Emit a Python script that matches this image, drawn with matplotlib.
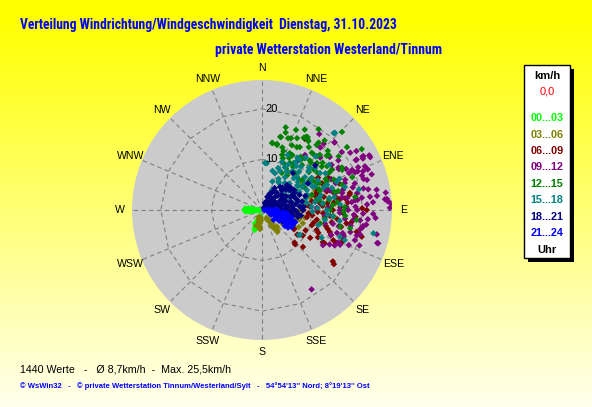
import numpy as np
import matplotlib
matplotlib.use('Agg')
import matplotlib.pyplot as plt
from matplotlib import font_manager
from matplotlib.patches import Rectangle

# ---------------- data (direction in degrees, speed in km/h) ----------------
hours_labels = ['00...03', '03...06', '06...09', '09...12', '12...15', '15...18', '18...21', '21...24']
hours_colors = ['#00ff00', '#808000', '#800000', '#800080', '#008000', '#008080', '#000080', '#0000ff']

dir_00_03 = [270, 270, 270, 270, 270, 270, 270, 270, 266, 266, 266, 274, 274, 274, 263, 277, 268, 272,
             206, 204, 203, 202, 202, 208, 200, 195, 192, 190,
             268, 272, 276, 264, 268, 272, 265, 275]
spd_00_03 = [0.6, 1.0, 1.4, 1.8, 2.2, 2.6, 3.0, 3.3, 1.2, 2.0, 2.8, 1.5, 2.4, 3.2, 2.5, 2.7, 3.4, 3.4,
             1.6, 2.2, 2.8, 3.4, 3.8, 3.0, 4.2, 1.2, 2.0, 2.6,
             0.8, 1.6, 2.0, 1.8, 2.4, 2.8, 3.2, 3.3]

dir_03_06 = [205, 200, 195, 190, 187, 186, 192, 188, 196,
             150, 148, 147, 146, 146, 145, 152, 149, 140, 138,
             100, 105, 110, 115, 108, 112, 118, 102, 96, 104, 115, 100, 120, 98, 92, 110,
             75, 90, 90, 107, 60, 80, 70, 85, 55, 79, 90, 80,
             185, 190, 200, 145, 142, 106, 112, 118, 124, 108]
spd_03_06 = [1.5, 2.0, 2.5, 3.0, 3.5, 3.8, 1.8, 2.6, 3.2,
             1.8, 2.5, 3.2, 4.0, 4.6, 5.3, 2.2, 3.8, 2.8, 4.4,
             3.5, 4.2, 4.8, 5.5, 6.0, 6.5, 7.2, 5.2, 6.8, 7.6, 8.0, 8.6, 6.0, 4.5, 7.2, 3.8,
             9.8, 10.9, 7.9, 6.8, 12.0, 13.5, 11.2, 14.5, 9.5, 8.4, 5.3, 6.0,
             2.0, 1.5, 3.3, 3.5, 5.0, 3.0, 4.2, 6.5, 5.0, 8.5]

dir_06_09 = [31, 72, 66, 82, 80, 84, 86, 89, 71, 83, 120, 135, 116, 107, 108, 113, 107, 99, 103, 105,
             90, 93, 73, 82, 79, 99, 90, 94, 121, 136, 132, 126, 127, 109, 112, 95, 100, 88, 76, 68,
             85, 97, 104, 110, 115, 125, 92, 78, 70, 74, 50, 84, 81, 60, 64, 118,
             86, 90, 92, 96, 98, 100, 102, 104, 106, 110, 112, 114, 118, 120, 122, 80, 76, 72, 88, 94, 96, 84]
spd_06_09 = [16.4, 11.4, 13.0, 16.6, 17.6, 14.3, 9.5, 19.8, 16.1, 11.5, 7.2, 9.1, 12.3, 10.3, 14.1, 15.3, 16.8, 16.9, 19.2, 20.4,
             20.7, 12.1, 11.3, 15.6, 17.7, 9.0, 8.2, 9.2, 7.4, 9.4, 10.9, 17.3, 17.8, 16.8, 17.0, 13.5, 11.0, 13.0, 14.5, 15.5,
             17.0, 15.0, 13.0, 11.5, 9.5, 8.5, 16.0, 12.5, 11.7, 13.3, 13.9, 13.0, 15.0, 12.8, 14.6, 13.6,
             12.0, 14.0, 11.0, 12.5, 17.8, 14.0, 16.0, 10.5, 13.5, 14.5, 12.0, 16.0, 14.0, 11.0, 9.5, 10.0, 11.0, 13.5, 15.5, 18.5, 10.0, 9.0]

dir_09_12 = [37, 43, 47, 38, 64, 63, 62, 57, 36, 66, 68, 69, 62,
             43, 47, 57, 62, 62, 63, 57, 61, 67, 71, 67, 68, 72, 74, 77, 81, 85, 83, 87, 88, 90, 72,
             148, 120, 106, 83, 85, 86, 104, 100, 85, 87, 89, 62, 69, 74, 83, 79, 80,
             96, 101, 95, 102, 82, 92, 88, 101, 108, 114, 102, 88, 74, 73,
             90, 96, 107, 113, 106, 105, 99, 106, 110, 117, 95, 84, 78, 92,
             60, 64, 66, 70, 72, 76, 78, 80, 82, 84, 86, 88, 90, 92, 94, 96, 98, 100, 102, 104,
             108, 110, 112, 116, 58, 54, 52, 48, 76, 70, 66, 93]
spd_09_12 = [18.8, 17.9, 19.6, 13.8, 23.8, 22.4, 21.0, 18.0, 12.0, 19.5, 20.4, 21.4, 17.2,
             16.9, 19.6, 20.8, 21.2, 22.7, 23.8, 16.4, 17.3, 18.7, 20.9, 22.1, 19.8, 17.2, 19.1, 14.8, 16.0, 17.8, 19.9, 20.8, 13.2, 15.4, 13.1,
             18.5, 13.9, 23.7, 21.5, 24.4, 24.9, 20.0, 20.1, 24.8, 25.5, 25.3, 22.5, 22.4, 21.6, 22.9, 21.4, 19.1,
             18.2, 19.8, 21.0, 23.2, 24.7, 15.4, 16.7, 14.3, 19.3, 16.9, 12.7, 10.8, 14.0, 21.0,
             18.8, 19.5, 15.5, 16.4, 16.6, 19.4, 20.2, 23.9, 14.5, 15.0, 12.5, 18.5, 16.2, 22.0,
             16.0, 18.5, 20.8, 17.5, 22.8, 18.5, 20.5, 23.0, 17.0, 19.0, 22.0, 18.5, 17.0, 20.0, 22.5, 16.5, 20.8, 17.8, 15.5, 18.0,
             17.0, 20.5, 18.5, 16.0, 22.0, 19.5, 17.0, 15.5, 16.5, 15.5, 15.0, 18.2]

dir_12_15 = [23, 20, 22, 14, 9, 13, 32, 34, 20, 29, 58.6, 29, 41, 45.5, 50, 52, 31, 34, 62, 60, 45.7,
             12.8, 24.8, 31, 36.7, 50.6, 53.5, 8.5, 27.4, 43, 49.5, 54, 41.6, 51, 41.7, 28, 47, 61, 67,
             72.6, 73, 81.5, 88, 82, 70, 63.4, 64.6, 51, 34, 39.6, 46.5,
             102, 103, 101.7, 96, 95, 91, 84, 64, 14.6, 31, 33, 20, 26,
             38, 44, 56, 58, 66, 70, 76, 79, 86, 36, 48, 53, 59, 25, 17, 40,
             18, 26, 30, 36, 40, 46, 52, 56, 60, 64, 68, 72, 76, 80, 84, 90, 94, 98, 22, 30,
             36, 44, 56, 62, 48, 55, 42, 35, 28, 16]
spd_12_15 = [17.2, 15.1, 15.3, 14.9, 13.4, 13.2, 17.0, 16.4, 12.4, 14.2, 23.1, 12.4, 15.0, 15.2, 16.7, 15.2, 10.8, 9.1, 17.9, 15.9, 22.1,
             13.4, 14.1, 14.5, 15.5, 17.1, 20.9, 13.4, 11.6, 15.0, 14.3, 14.6, 11.9, 11.9, 9.8, 8.3, 6.7, 15.1, 15.4,
             16.6, 10.3, 13.4, 16.4, 18.6, 19.0, 17.7, 12.5, 9.4, 11.2, 13.3, 15.8,
             15.8, 11.8, 17.8, 18.8, 14.2, 16.1, 12.2, 12.0, 14.9, 16.9, 16.6, 11.6, 12.5,
             12.8, 13.6, 13.2, 11.0, 14.0, 12.0, 14.8, 11.0, 14.0, 10.5, 12.6, 10.0, 9.5, 10.2, 16.0, 17.4,
             13.0, 15.8, 16.5, 13.0, 16.8, 13.5, 13.0, 15.5, 11.5, 14.0, 13.5, 12.0, 15.5, 11.5, 15.0, 13.5, 16.5, 12.5, 11.0, 9.5,
             8.5, 10.5, 8.5, 9.5, 17.5, 18.5, 18.5, 19.5, 18.0, 17.0]

dir_15_18 = [43, 6, 3.7, 22.6, 19.4, 35, 45, 32, 52.5, 60, 56, 70, 57, 72.5, 74.5, 56, 51.6, 28, 26.6, 78,
             81, 78, 57.5, 123, 101.8, 110, 109, 99, 86, 74, 66, 81.4, 90, 124,
             43.5, 21, 33, 37, 46.7, 60.6, 69, 69.5,
             30, 40, 48, 55, 62, 65, 75, 85, 92, 95, 38, 50, 44, 64, 80, 25, 35, 53,
             15, 25, 30, 38, 42, 48, 52, 58, 62, 66, 70, 76, 80, 84, 88, 46, 54, 64, 72, 40,
             34, 28, 20, 45, 60, 68, 86, 94, 98, 105, 115, 82]
spd_15_18 = [20.8, 9.3, 9.3, 10.3, 7.7, 7.9, 8.9, 6.3, 10.7, 9.1, 7.1, 6.9, 11.7, 14.5, 17.0, 16.0, 13.4, 9.6, 4.4, 11.5,
             9.0, 19.6, 13.6, 9.0, 22.5, 17.4, 16.3, 12.6, 9.8, 7.1, 9.7, 10.6, 12.8, 8.8,
             21.0, 8.9, 9.0, 12.4, 9.5, 10.9, 13.8, 15.8,
             6.5, 7.0, 6.0, 8.5, 7.8, 11.0, 9.0, 8.0, 10.0, 14.0, 11.0, 12.0, 10.5, 5.8, 13.5, 12.0, 11.5, 5.2,
             8.0, 8.5, 10.5, 9.8, 11.5, 12.5, 9.0, 10.0, 12.5, 11.5, 13.0, 12.0, 14.5, 12.0, 11.0, 7.5, 6.5, 8.2, 9.5, 13.5,
             12.5, 7.0, 6.0, 15.0, 14.5, 16.5, 15.5, 13.0, 15.5, 11.5, 13.0, 8.0]

dir_18_21 = [22, 22, 25, 30, 28, 35, 35, 38, 40, 42, 45, 45, 45, 48, 50, 52, 55, 55, 58, 60, 62, 63, 65, 65,
             68, 70, 70, 72, 75, 75, 78, 78, 80, 80, 82, 85, 85, 88, 88, 90, 90, 90, 92, 95, 95, 98, 100,
             101, 103, 105, 108, 110, 112, 116, 107, 60, 40, 85, 30, 50, 68, 58, 73, 95, 115, 120,
             50, 60, 40, 72,
             32, 36, 42, 48, 52, 56, 62, 66, 70, 74, 76, 80, 84, 86, 90, 92, 94, 96, 100, 104,
             108, 110, 28, 44, 54, 64, 82, 98, 86, 60]
spd_18_21 = [1.5, 2.8, 3.5, 4.2, 2.0, 1.2, 3.0, 5.8, 4.5, 2.2, 7.0, 5.5, 3.8, 1.5, 6.2, 4.8, 3.0, 6.8, 2.0, 5.5, 7.3, 4.0, 1.2, 6.2,
             3.2, 7.0, 5.0, 2.5, 6.0, 4.2, 8.1, 1.5, 3.5, 6.8, 5.2, 7.5, 2.5, 4.5, 6.2, 8.1, 1.0, 3.3, 5.6, 7.0, 2.2, 4.2, 6.2,
             7.2, 3.0, 5.0, 1.8, 4.0, 6.0, 5.5, 2.1, 0.8, 0.6, 0.5, 5.0, 2.6, 8.0, 7.5, 0.9, 4.8, 3.0, 4.6,
             13.7, 10.5, 9.5, 9.0,
             3.0, 4.4, 6.0, 4.2, 7.2, 5.0, 3.0, 4.8, 2.0, 5.8, 7.4, 4.8, 6.0, 3.8, 5.0, 6.8, 3.6, 5.8, 4.0, 5.8,
             4.8, 2.8, 3.5, 2.8, 1.8, 6.6, 2.0, 7.8, 8.2, 4.6]

dir_21_24 = [90, 95, 100, 105, 110, 100, 108, 112, 115, 118, 105, 110, 114, 120, 102, 96, 92, 107, 116, 122,
             125, 98, 104, 110, 88, 86, 118, 112, 130,
             94, 100, 106, 112, 118, 108, 102, 114, 120, 124, 96, 90, 116, 106]
spd_21_24 = [0.5, 1.0, 1.5, 2.0, 2.5, 2.8, 3.2, 3.8, 4.5, 5.0, 4.0, 5.5, 6.2, 6.8, 3.5, 2.2, 1.8, 4.8, 3.0, 4.0,
             5.5, 5.0, 6.0, 7.0, 2.5, 1.2, 2.0, 1.5, 3.0,
             2.8, 3.5, 2.6, 4.6, 5.8, 6.2, 4.6, 5.0, 3.5, 6.2, 4.2, 3.0, 6.8, 5.5]

group_dirs = [dir_00_03, dir_03_06, dir_06_09, dir_09_12, dir_12_15, dir_15_18, dir_18_21, dir_21_24]
group_spds = [spd_00_03, spd_03_06, spd_06_09, spd_09_12, spd_12_15, spd_15_18, spd_18_21, spd_21_24]

compass = ['N', 'NNE', 'NE', 'ENE', 'E', 'ESE', 'SE', 'SSE', 'S', 'SSW', 'SW', 'WSW', 'W', 'WNW', 'NW', 'NNW']
ring_values = [10, 20]
r_max = 25.7

title1 = 'Verteilung Windrichtung/Windgeschwindigkeit  Dienstag, 31.10.2023'
title2 = 'private Wetterstation Westerland/Tinnum'
stats_text = '1440 Werte   -   Ø 8,7km/h  -  Max. 25,5km/h'
footer_text = "© WsWin32   -   © private Wetterstation Tinnum/Westerland/Sylt   -   54°54'13'' Nord; 8°19'13'' Ost"

# ---------------- figure ----------------
W, H = 592, 407
fig = plt.figure(figsize=(W / 100, H / 100), dpi=100)

avail = {f.name for f in font_manager.fontManager.ttflist}
BASE = 'Liberation Sans' if 'Liberation Sans' in avail else 'DejaVu Sans'
NARROW = BASE
for cand in ['Liberation Sans Narrow', 'Arial Narrow', 'Roboto Condensed', 'Open Sans Condensed',
             'DejaVu Sans Condensed', 'Noto Sans Condensed']:
    if cand in avail:
        NARROW = cand
        break

def px(x, y):
    return x / W, 1 - y / H

# background gradient
bg = fig.add_axes([0, 0, 1, 1], zorder=-10)
grad = np.linspace(0, 1, 256)
img = np.ones((256, 2, 3))
img[..., 2] = (np.clip((grad - 0.04) / 0.96, 0, 1) * 0.93)[:, None]
bg.imshow(img, aspect='auto', extent=[0, 1, 0, 1], origin='upper')
bg.set_axis_off()

# polar axes
cx, cy, rad = 262, 210, 130
ax = fig.add_axes([(cx - rad) / W, 1 - (cy + rad) / H, 2 * rad / W, 2 * rad / H], projection='polar')
ax.set_theta_zero_location('N')
ax.set_theta_direction(-1)
ax.set_ylim(0, r_max)
ax.set_facecolor('#cbcbcb')
ax.spines['polar'].set_visible(False)
ax.grid(False)
ax.set_xticks([])
ax.set_yticks([])

angles = np.deg2rad(np.arange(16) * 22.5)
grid_kw = dict(color='#808080', lw=0.8, dashes=(4, 3), zorder=1)
for a in angles:
    ax.plot([a, a], [0, r_max], **grid_kw)
ring_theta = np.append(angles, angles[0])
for rv in ring_values:
    ax.plot(ring_theta, [rv] * len(ring_theta), **grid_kw)
    ax.annotate(str(rv), xy=(0, rv), xytext=(2.5, 0), textcoords='offset points',
                ha='left', va='center', fontsize=8, family=BASE, color='black', zorder=5)

for a, name in zip(angles, compass):
    ax.text(a, r_max * 142 / 130, name, ha='center', va='center', fontsize=7.6,
            family=BASE, color='black', clip_on=False)

for d, s, c in zip(group_dirs, group_spds, hours_colors):
    ax.scatter(np.deg2rad(d), s, marker='D', s=11, color=c, edgecolors='none', zorder=3)

# titles
renderer = fig.canvas.get_renderer()
def fit(t, target):
    bb = t.get_window_extent(renderer)
    t.set_fontsize(t.get_fontsize() * target / bb.width)

t1 = fig.text(*px(20, 25), title1, ha='left', va='center', fontsize=10, fontweight='bold',
              family=NARROW, color='#0000ff')
fit(t1, 378)
t2 = fig.text(*px(215, 50), title2, ha='left', va='center', fontsize=10, fontweight='bold',
              family=NARROW, color='#0000ff')
fit(t2, 228)
t3 = fig.text(*px(20, 369), stats_text, ha='left', va='center', fontsize=8, family=BASE, color='black')
fit(t3, 211)
t4 = fig.text(*px(20, 386), footer_text, ha='left', va='center', fontsize=5.5, fontweight='bold',
              family=BASE, color='#0000ff')
fit(t4, 350)

# legend box
bx0, by0, bx1, by1 = 524, 65, 570, 258
fig.add_artist(Rectangle(px(bx0 + 4, by1 + 4), (bx1 - bx0) / W, (by1 - by0) / H,
                         transform=fig.transFigure, facecolor='black', edgecolor='black', lw=0, zorder=5))
fig.add_artist(Rectangle(px(bx0, by1), (bx1 - bx0) / W, (by1 - by0) / H,
                         transform=fig.transFigure, facecolor='white', edgecolor='black', lw=1, zorder=6))
lx = 547
fig.text(*px(lx, 76), 'km/h', ha='center', va='center', fontsize=8, fontweight='bold', family=BASE,
         color='black', zorder=7)
fig.text(*px(lx, 92), '0,0', ha='center', va='center', fontsize=8, family=BASE, color='#ff0000', zorder=7)
ys = [118, 134.5, 151, 167, 183.5, 200, 216.5, 233]
for y, lab, c in zip(ys, hours_labels, hours_colors):
    fig.text(*px(lx, y), lab, ha='center', va='center', fontsize=7.8, fontweight='bold', family=BASE,
             color=c, zorder=7)
fig.text(*px(lx, 250), 'Uhr', ha='center', va='center', fontsize=8, fontweight='bold', family=BASE,
         color='black', zorder=7)

fig.savefig('out.png', dpi=100)
